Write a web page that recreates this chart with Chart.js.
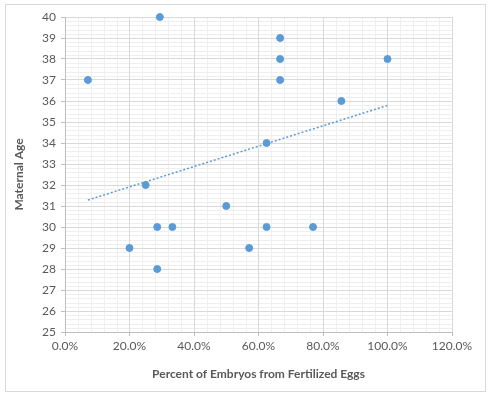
<!DOCTYPE html>
<html>
<head>
<meta charset="utf-8">
<script src="https://cdn.jsdelivr.net/npm/chart.js@4.4.1/dist/chart.umd.min.js"></script>
<style>
  html, body { margin: 0; padding: 0; background: #fff; }
  #wrap { width: 489px; height: 396px; }
</style>
</head>
<body>
<div id="wrap"><canvas id="scatterChart" width="489" height="396"></canvas></div>
<script>
// percent of embryos from fertilized eggs (fraction)
const embryoPct = [0.294, 0.071, 0.25, 0.667, 0.667, 0.667, 1.0, 0.857, 0.625, 0.50, 0.286, 0.333, 0.20, 0.286, 0.571, 0.625, 0.769];
// maternal age
const maternalAge = [40, 37, 32, 39, 38, 37, 38, 36, 34, 31, 30, 30, 29, 28, 29, 30, 30];

const xTicks = [0, 0.2, 0.4, 0.6, 0.8, 1.0, 1.2];
const yTicks = [25, 26, 27, 28, 29, 30, 31, 32, 33, 34, 35, 36, 37, 38, 39, 40];

const pointColor = '#5b9bd5';
const textColor = '#595959';
const fontFamily = 'Lato, "Open Sans", sans-serif';

const points = embryoPct.map((x, i) => ({ x: x, y: maternalAge[i] }));

// linear trendline (least squares), drawn over the data range
function trendline(xs, ys) {
    const n = xs.length;
    const mx = xs.reduce((a, b) => a + b, 0) / n;
    const my = ys.reduce((a, b) => a + b, 0) / n;
    let sxy = 0, sxx = 0;
    for (let i = 0; i < n; i++) {
        sxy += (xs[i] - mx) * (ys[i] - my);
        sxx += (xs[i] - mx) * (xs[i] - mx);
    }
    const slope = sxy / sxx;
    const x0 = Math.min(...xs), x1 = Math.max(...xs);
    return [
        { x: x0, y: my + slope * (x0 - mx) },
        { x: x1, y: my + slope * (x1 - mx) }
    ];
}

// minor gridlines behind the major ones
const minorGrid = {
    id: 'minorGrid',
    beforeDraw(chart) {
        const { ctx, chartArea, scales } = chart;
        ctx.save();
        ctx.strokeStyle = '#efefef';
        ctx.lineWidth = 1;
        ctx.beginPath();
        for (let i = 1; i < 30; i++) {
            if (i % 5 === 0) continue;
            const px = Math.round(scales.x.getPixelForValue(i * 0.04)) + 0.5;
            ctx.moveTo(px, chartArea.top);
            ctx.lineTo(px, chartArea.bottom);
        }
        for (let j = 1; j < 75; j++) {
            if (j % 5 === 0) continue;
            const py = Math.round(scales.y.getPixelForValue(25 + j * 0.2)) + 0.5;
            ctx.moveTo(chartArea.left, py);
            ctx.lineTo(chartArea.right, py);
        }
        ctx.stroke();
        ctx.restore();
    }
};

const chartBorder = {
    id: 'chartBorder',
    afterDraw(chart) {
        const ctx = chart.ctx;
        ctx.save();
        ctx.strokeStyle = '#d9d9d9';
        ctx.lineWidth = 1;
        ctx.strokeRect(5.5, 4.5, 480, 387);
        ctx.restore();
    }
};

const ctx = document.getElementById('scatterChart').getContext('2d');
const chart = new Chart(ctx, {
    type: 'scatter',
    data: {
        datasets: [{
            label: 'Maternal Age',
            data: points,
            backgroundColor: pointColor,
            borderColor: pointColor,
            pointRadius: 3.5,
            pointHoverRadius: 3.5,
            clip: false
        }, {
            label: 'Linear trend',
            data: trendline(embryoPct, maternalAge),
            showLine: true,
            borderColor: pointColor,
            borderWidth: 1.5,
            borderDash: [2, 2],
            pointRadius: 0,
            fill: false
        }]
    },
    options: {
        responsive: false,
        animation: false,
        layout: { padding: { left: 0, right: 37, top: 17, bottom: 0 } },
        plugins: {
            legend: { display: false },
            tooltip: { enabled: false }
        },
        scales: {
            x: {
                type: 'linear',
                min: 0,
                max: 1.2,
                afterFit: function(scale) { scale.height = 64; },
                afterBuildTicks: function(scale) { scale.ticks = xTicks.map(v => ({ value: v })); },
                grid: { color: '#d9d9d9', tickColor: '#bfbfbf', tickLength: 4 },
                border: { color: '#bfbfbf' },
                ticks: {
                    color: textColor,
                    font: { family: fontFamily, size: 12 },
                    padding: 3,
                    maxRotation: 0,
                    callback: function(value) { return (value * 100).toFixed(1) + '%'; }
                },
                title: {
                    display: true,
                    text: 'Percent of Embryos from Fertilized Eggs',
                    color: textColor,
                    font: { family: fontFamily, size: 12, weight: 'bold' },
                    padding: { top: 0, bottom: 15 }
                }
            },
            y: {
                type: 'linear',
                min: 25,
                max: 40,
                afterFit: function(scale) { scale.width = 65; },
                afterBuildTicks: function(scale) { scale.ticks = yTicks.map(v => ({ value: v })); },
                grid: { color: '#d9d9d9', tickColor: '#bfbfbf', tickLength: 4 },
                border: { color: '#bfbfbf' },
                ticks: {
                    color: textColor,
                    font: { family: fontFamily, size: 12 },
                    padding: 5
                },
                title: {
                    display: true,
                    text: 'Maternal Age',
                    color: textColor,
                    font: { family: fontFamily, size: 12, weight: 'bold' },
                    padding: { top: 12, bottom: 0 }
                }
            }
        }
    },
    plugins: [minorGrid, chartBorder]
});
</script>
</body>
</html>
